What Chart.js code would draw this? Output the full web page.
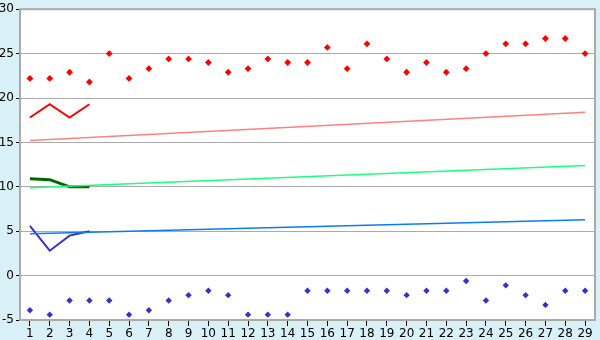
<!DOCTYPE html>
<html>
<head>
<meta charset="utf-8">
<script src="https://cdn.jsdelivr.net/npm/chart.js@4"></script>
<style>
  html, body { margin: 0; padding: 0; background: #d9f0f7; }
  #wrap { width: 600px; height: 340px; position: relative; }
</style>
</head>
<body>
<div id="wrap"><canvas id="chart" width="600" height="340"></canvas></div>
<script>
const days = ["1","2","3","4","5","6","7","8","9","10","11","12","13","14","15","16","17","18","19","20","21","22","23","24","25","26","27","28","29"];

const highPoints = [22.2, 22.2, 22.9, 21.8, 25.0, 22.2, 23.3, 24.4, 24.4, 24.0, 22.9, 23.3, 24.4, 24.0, 24.0, 25.7, 23.3, 26.1, 24.4, 22.9, 24.0, 22.9, 23.3, 25.0, 26.1, 26.1, 26.7, 26.7, 25.0];
const lowPoints = [-3.9, -4.4, -2.8, -2.8, -2.8, -4.4, -3.9, -2.8, -2.2, -1.7, -2.2, -4.4, -4.4, -4.4, -1.7, -1.7, -1.7, -1.7, -1.7, -2.2, -1.7, -1.7, -0.6, -2.8, -1.1, -2.2, -3.3, -1.7, -1.7];

const highLine = [17.8, 19.3, 17.8, 19.3];
const meanLine = [10.9, 10.8, 10.0, 10.0];
const lowLine = [5.6, 2.8, 4.5, 5.0];

// trend lines: value at first and last day
const highTrend = [15.2, 18.4];
const meanTrend = [9.9, 12.4];
const lowTrend = [4.7, 6.3];

const yTicks = [-5, 0, 5, 10, 15, 20, 25, 30];

function trendData(t) {
  return [{ x: days[0], y: t[0] }, { x: days[days.length - 1], y: t[1] }];
}

const plotBox = {
  id: "plotBox",
  beforeDraw(chart) {
    const a = chart.chartArea;
    const ctx = chart.ctx;
    ctx.save();
    ctx.fillStyle = "#ffffff";
    ctx.fillRect(a.left, a.top, a.right - a.left, a.bottom - a.top);
    ctx.restore();
  },
  afterDatasetsDraw(chart) {
    const a = chart.chartArea;
    const ctx = chart.ctx;
    ctx.save();
    ctx.strokeStyle = "#aaaaaa";
    ctx.lineWidth = 2;
    ctx.strokeRect(a.left, a.top, a.right - a.left, a.bottom - a.top);
    ctx.restore();
  },
};

Chart.defaults.font.family = "'DejaVu Sans', sans-serif";
Chart.defaults.font.size = 12;
Chart.defaults.color = "#000000";

new Chart(document.getElementById("chart").getContext("2d"), {
  type: "line",
  data: {
    labels: days,
    datasets: [
      { data: trendData(highTrend), borderColor: "#ff8080", borderWidth: 1.5, pointRadius: 0, spanGaps: true },
      { data: trendData(meanTrend), borderColor: "#1aff80", borderWidth: 1.5, pointRadius: 0, spanGaps: true },
      { data: trendData(lowTrend), borderColor: "#0a7cf0", borderWidth: 1.5, pointRadius: 0, spanGaps: true },
      { data: highLine, borderColor: "#ff0000", borderWidth: 2, pointRadius: 0 },
      { data: meanLine, borderColor: "#006600", borderWidth: 3, pointRadius: 0 },
      { data: lowLine, borderColor: "#3333cc", borderWidth: 2, pointRadius: 0 },
      { data: highPoints, showLine: false, pointStyle: "rectRot", pointRadius: 3.4, borderWidth: 0, backgroundColor: "#ff0000", borderColor: "#ff0000" },
      { data: lowPoints, showLine: false, pointStyle: "rectRot", pointRadius: 3.2, borderWidth: 0, backgroundColor: "#3333cc", borderColor: "#3333cc" },
    ],
  },
  options: {
    responsive: false,
    animation: false,
    layout: { padding: { top: 5, right: 5, left: 0, bottom: 0 } },
    plugins: { legend: { display: false }, tooltip: { enabled: false } },
    elements: { line: { tension: 0 } },
    scales: {
      x: {
        type: "category",
        offset: true,
        grid: { drawOnChartArea: false, drawTicks: true, tickLength: 6, color: "#000000", offset: false },
        border: { display: false },
        ticks: { padding: 1, maxRotation: 0, autoSkip: false, font: { size: 12 } },
        afterFit(s) { s.height = 20; },
      },
      y: {
        min: -5,
        max: 30,
        afterBuildTicks(s) { s.ticks = yTicks.map((v) => ({ value: v })); },
        grid: { color: "#aaaaaa", lineWidth: 1, tickLength: 4, tickColor: "#000000" },
        border: { display: false },
        ticks: { padding: 2, font: { size: 12 } },
        afterFit(s) { s.width = 20; },
      },
    },
  },
  plugins: [plotBox],
});
</script>
</body>
</html>
